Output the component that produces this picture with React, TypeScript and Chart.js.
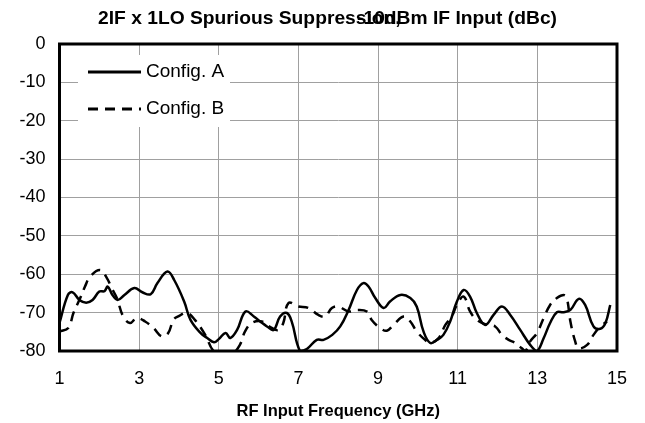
import React, { useEffect, useRef } from "react";
import { Chart, registerables } from "chart.js";

Chart.register(...registerables);

const titleLeft = "2IF x 1LO Spurious Suppression,";
const titleRight = "-10dBm IF Input (dBc)";
const xTitle = "RF Input Frequency (GHz)";
const seriesNames = ["Config. A", "Config. B"];

const freqA = [1.0, 1.21, 1.33, 1.5, 1.67, 1.83, 2.0, 2.13, 2.21, 2.33, 2.46, 2.63, 2.88, 3.08, 3.29, 3.46, 3.71, 3.88, 4.13, 4.29, 4.54, 4.71, 4.88, 5.0, 5.17, 5.29, 5.46, 5.67, 5.88, 6.04, 6.21, 6.38, 6.54, 6.71, 6.83, 7.04, 7.21, 7.46, 7.63, 7.85, 8.05, 8.26, 8.47, 8.63, 8.76, 8.93, 9.14, 9.3, 9.56, 9.81, 9.97, 10.14, 10.31, 10.48, 10.64, 10.81, 10.98, 11.15, 11.31, 11.48, 11.69, 11.9, 12.11, 12.32, 12.57, 12.82, 12.99, 13.16, 13.32, 13.49, 13.66, 13.83, 14.04, 14.2, 14.41, 14.58, 14.71, 14.83];
const valuesA = [-72.7, -65.4, -64.7, -66.7, -67.4, -66.7, -64.5, -64.4, -63.2, -65.4, -66.7, -65.4, -63.6, -64.7, -65.2, -62.3, -59.3, -61.5, -67.1, -71.9, -75.3, -76.6, -77.7, -76.9, -75.3, -76.6, -74.5, -69.7, -71.0, -72.3, -73.6, -74.5, -71.0, -70.1, -72.3, -80.0, -79.5, -77.1, -77.1, -75.8, -73.6, -69.3, -64.1, -62.3, -63.2, -66.2, -68.8, -67.1, -65.4, -66.2, -68.4, -74.9, -77.9, -77.1, -75.8, -72.3, -67.1, -64.1, -65.8, -70.1, -73.2, -70.6, -68.4, -70.6, -74.5, -78.4, -80.0, -76.6, -72.7, -69.9, -69.9, -69.3, -66.4, -68.0, -73.6, -74.2, -72.7, -68.0];

const freqB = [1.0, 1.22, 1.35, 1.52, 1.64, 1.77, 2.02, 2.19, 2.31, 2.44, 2.6, 2.77, 2.94, 3.15, 3.36, 3.57, 3.73, 3.86, 3.98, 4.2, 4.4, 4.66, 4.87, 5.1, 5.35, 5.53, 5.66, 5.83, 6.08, 6.33, 6.5, 6.62, 6.75, 7.0, 7.25, 7.5, 7.67, 7.84, 8.0, 8.26, 8.47, 8.72, 8.84, 9.05, 9.22, 9.39, 9.64, 9.81, 9.97, 10.18, 10.31, 10.52, 10.69, 10.85, 10.98, 11.15, 11.31, 11.48, 11.73, 11.94, 12.11, 12.28, 12.45, 12.61, 12.7, 12.82, 12.99, 13.16, 13.32, 13.49, 13.66, 13.74, 13.83, 13.95, 14.04, 14.25, 14.41, 14.58, 14.75];
const valuesB = [-74.9, -74.0, -70.1, -66.2, -63.2, -60.6, -58.9, -61.0, -63.6, -66.2, -71.0, -72.7, -71.4, -72.3, -74.0, -76.2, -75.3, -71.9, -71.0, -70.1, -71.9, -75.8, -80.0, -80.5, -80.5, -78.4, -74.9, -72.7, -72.3, -74.0, -74.5, -72.7, -67.5, -68.4, -68.8, -70.6, -71.0, -68.8, -68.4, -69.7, -69.3, -69.7, -71.9, -74.0, -74.7, -73.2, -71.0, -72.3, -74.9, -77.1, -77.9, -76.6, -73.2, -71.0, -68.0, -65.8, -69.7, -71.9, -73.2, -73.6, -75.8, -77.1, -77.9, -79.3, -80.0, -77.5, -75.3, -71.4, -68.0, -66.2, -65.4, -66.2, -72.3, -77.5, -79.3, -78.4, -75.8, -73.6, -72.3];

const xTicks = [1, 3, 5, 7, 9, 11, 13, 15];
const yTicks = [0, -10, -20, -30, -40, -50, -60, -70, -80];

const FONT = "'Liberation Sans', Arial, sans-serif";

export default function App() {
  const ref = useRef<HTMLCanvasElement | null>(null);

  useEffect(() => {
    document.body.style.margin = "0";
    const canvas = ref.current;
    if (!canvas) return;

    const titlePlugin = {
      id: "customTitle",
      afterDraw(chart: any) {
        const ctx = chart.ctx;
        const sx = 1.1;
        ctx.save();
        ctx.fillStyle = "#000";
        ctx.font = `bold 17.5px ${FONT}`;
        ctx.textBaseline = "middle";
        ctx.scale(sx, 1);
        ctx.textAlign = "left";
        ctx.fillText(titleLeft, 98 / sx, 19);
        ctx.textAlign = "right";
        ctx.fillText(titleRight, 557 / sx, 19);
        ctx.restore();
      },
    };

    const framePlugin = {
      id: "frameLegend",
      afterDatasetsDraw(chart: any) {
        const ctx = chart.ctx;
        const a = chart.chartArea;
        ctx.save();
        ctx.fillStyle = "#fff";
        ctx.fillRect(78, 55, 152, 72);
        const ds = chart.data.datasets;
        const rows = [72, 109];
        ds.forEach((d: any, i: number) => {
          ctx.strokeStyle = "#000";
          ctx.lineWidth = 3;
          ctx.setLineDash(d.borderDash || []);
          ctx.beginPath();
          ctx.moveTo(88, rows[i]);
          ctx.lineTo(141, rows[i]);
          ctx.stroke();
          ctx.setLineDash([]);
          ctx.fillStyle = "#000";
          ctx.font = `19px ${FONT}`;
          ctx.textAlign = "left";
          ctx.textBaseline = "middle";
          ctx.fillText(d.label, 146, rows[i]);
        });
        ctx.strokeStyle = "#000";
        ctx.lineWidth = 3;
        ctx.strokeRect(a.left, a.top, a.right - a.left, a.bottom - a.top);
        ctx.restore();
      },
    };

    const chart = new Chart(canvas, {
      type: "line",
      data: {
        datasets: [
          {
            label: seriesNames[0],
            data: freqA.map((f, i) => ({ x: f, y: valuesA[i] })),
            borderColor: "#000",
            borderWidth: 2.5,
            pointRadius: 0,
            tension: 0.4,
            fill: false,
          },
          {
            label: seriesNames[1],
            data: freqB.map((f, i) => ({ x: f, y: valuesB[i] })),
            borderColor: "#000",
            borderWidth: 2.5,
            borderDash: [10, 7],
            pointRadius: 0,
            tension: 0.4,
            fill: false,
          },
        ],
      },
      options: {
        animation: false,
        responsive: false,
        maintainAspectRatio: false,
        layout: { padding: { top: 44, right: 28, left: 0, bottom: 0 } },
        plugins: {
          legend: { display: false },
          title: { display: false },
          tooltip: { enabled: false },
        },
        scales: {
          x: {
            type: "linear",
            min: 1,
            max: 15,
            afterBuildTicks: (s: any) => {
              s.ticks = xTicks.map((v) => ({ value: v }));
            },
            afterFit: (s: any) => {
              s.height = 72;
            },
            ticks: {
              color: "#000",
              font: { family: FONT, size: 18 },
              padding: 17,
              maxRotation: 0,
            },
            grid: { color: "#a0a0a0", lineWidth: 1, drawTicks: false },
            border: { display: false },
            title: {
              display: true,
              text: xTitle,
              color: "#000",
              font: { family: FONT, size: 16.5, weight: "bold" },
              padding: { top: 8, bottom: 2 },
            },
          },
          y: {
            type: "linear",
            min: -80,
            max: 0,
            afterBuildTicks: (s: any) => {
              s.ticks = yTicks.map((v) => ({ value: v }));
            },
            afterFit: (s: any) => {
              s.width = 59.5;
            },
            ticks: {
              color: "#000",
              font: { family: FONT, size: 18 },
              padding: 14,
            },
            grid: { color: "#a0a0a0", lineWidth: 1, drawTicks: false },
            border: { display: false },
          },
        },
      },
      plugins: [titlePlugin, framePlugin],
    } as any);

    return () => chart.destroy();
  }, []);

  return (
    <div style={{ width: 645, height: 423 }}>
      <canvas ref={ref} width={645} height={423} style={{ display: "block" }} />
    </div>
  );
}
